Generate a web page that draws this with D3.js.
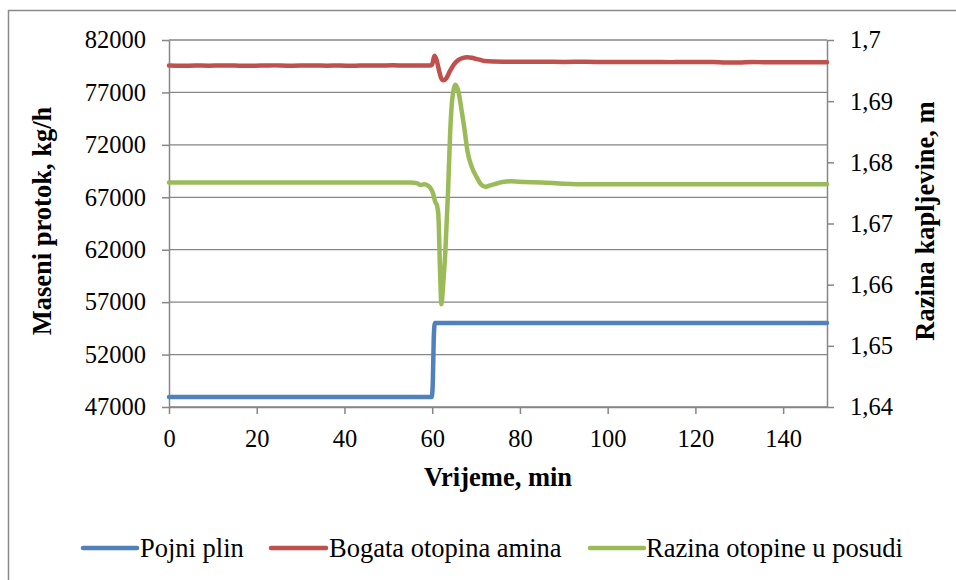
<!DOCTYPE html>
<html>
<head>
<meta charset="utf-8">
<script src="https://cdn.jsdelivr.net/npm/d3@7"></script>
<style>
  html, body { margin: 0; padding: 0; background: #fff; }
  svg { display: block; }
  text { font-family: "Liberation Serif", "Times New Roman", serif; fill: #000; }
</style>
</head>
<body>
<svg id="chart" width="956" height="580"></svg>
<script>
// ---------- DATA ----------
const leftTicks = [47000, 52000, 57000, 62000, 67000, 72000, 77000, 82000];
const rightTicks = [1.64, 1.65, 1.66, 1.67, 1.68, 1.69, 1.70];
const xTicks = [0, 20, 40, 60, 80, 100, 120, 140];

const seriesNames = ["Pojni plin", "Bogata otopina amina", "Razina otopine u posudi"];
const seriesColors = ["#4F81BD", "#C0504D", "#9BBB59"];

// Pojni plin (left axis, kg/h)
const gasTime  = [0, 10, 20, 30, 40, 50, 59.9, 60.15, 60.35, 60.6, 65, 70, 80, 90, 100, 110, 120, 130, 140, 150];
const gasValue = [47950, 47950, 47950, 47950, 47950, 47950, 47950, 49500, 53500, 55000, 55000, 55000, 55000, 55000, 55000, 55000, 55000, 55000, 55000, 55000];

// Bogata otopina amina (left axis, kg/h)
const richTime  = [0, 3, 6, 9, 12, 15, 18, 21, 24, 27, 30, 33, 36, 39, 42, 45, 48, 51, 54, 57, 59.5,
                   60.0, 60.5, 61.0, 61.5, 62.0, 62.5, 63.2, 64, 65, 66, 67, 68, 69, 70, 71, 72, 74, 77,
                   80, 85, 90, 95, 100, 105, 110, 115, 120, 124, 127, 130, 133, 136, 140, 145, 150];
const richValue = [79560, 79540, 79570, 79550, 79580, 79560, 79540, 79570, 79580, 79550, 79560, 79580, 79550, 79570, 79540, 79580, 79560, 79590, 79560, 79580, 79570,
                   79680, 80500, 80100, 79200, 78400, 78150, 78350, 79000, 79700, 80100, 80300, 80350, 80300, 80200, 80100, 80000, 79950, 79930,
                   79920, 79920, 79910, 79920, 79900, 79910, 79900, 79890, 79900, 79910, 79850, 79860, 79900, 79880, 79880, 79870, 79870];

// Razina otopine u posudi (right axis, m)
const levelTime  = [0, 10, 20, 30, 40, 50, 55, 56.5, 57.3, 58.2, 59.0, 59.6, 60.2, 60.7, 61.1, 61.4, 61.8, 62.1, 62.5,
                    63.0, 63.6, 64.1, 64.6, 65.3, 66.0, 66.7, 67.4, 68.0, 69.1, 70.2, 71.1, 72.1, 73.0, 74.5, 76.0, 78.0,
                    81, 85, 90, 96, 100, 110, 120, 130, 140, 150];
const levelValue = [1.6767, 1.6767, 1.6767, 1.6767, 1.6767, 1.6767, 1.6767, 1.6766, 1.6763, 1.6764, 1.6762, 1.6758, 1.6749, 1.6735, 1.6729, 1.6715, 1.6620, 1.6568, 1.6600,
                    1.6655, 1.6750, 1.6850, 1.6905, 1.6927, 1.6915, 1.6885, 1.6852, 1.6820, 1.6791, 1.6775, 1.6764, 1.6760, 1.6762, 1.6765, 1.6768, 1.6769,
                    1.6768, 1.6767, 1.6765, 1.6764, 1.6764, 1.6764, 1.6764, 1.6764, 1.6764, 1.6764];

const xTitle = "Vrijeme, min";
const leftTitle = "Maseni protok, kg/h";
const rightTitle = "Razina kapljevine, m";

// ---------- LAYOUT ----------
const svg = d3.select("#chart");
const plot = { left: 169, right: 827, top: 40, bottom: 407 };
const gridColor = "#868686";
const tickFont = 24.5;
const legendFont = 26.5;

const x = d3.scaleLinear().domain([0, 150]).range([plot.left, plot.right]);
const yL = d3.scaleLinear().domain([47000, 82000]).range([plot.bottom, plot.top]);
const yR = d3.scaleLinear().domain([1.64, 1.70]).range([plot.bottom, plot.top]);

// outer border
svg.append("rect")
  .attr("x", 8.5).attr("y", 10.5).attr("width", 1000).attr("height", 1000)
  .attr("fill", "none").attr("stroke", "#8a8a8a").attr("stroke-width", 1.5);

// gridlines
svg.append("g").selectAll("line").data(leftTicks).join("line")
  .attr("x1", plot.left).attr("x2", plot.right)
  .attr("y1", d => yL(d)).attr("y2", d => yL(d))
  .attr("stroke", gridColor).attr("stroke-width", 1.3);

function styleAxis(g) {
  g.attr("font-family", null);
  g.select(".domain").attr("stroke", gridColor).attr("stroke-width", 1.5);
  g.selectAll(".tick line").attr("stroke", gridColor).attr("stroke-width", 1.5);
  g.selectAll("text").attr("font-size", tickFont).attr("font-family", "Liberation Serif").attr("fill", "#000");
}

// left axis
svg.append("g").attr("transform", `translate(${plot.left},0)`)
  .call(d3.axisLeft(yL).tickValues(leftTicks).tickFormat(d3.format("d")).tickSize(7).tickSizeOuter(0).tickPadding(16))
  .call(styleAxis);

// right axis
svg.append("g").attr("transform", `translate(${plot.right},0)`)
  .call(d3.axisRight(yR).tickValues(rightTicks)
    .tickFormat(d => String(+d.toFixed(2)).replace(".", ","))
    .tickSize(7).tickSizeOuter(0).tickPadding(16))
  .call(styleAxis);

// bottom axis
svg.append("g").attr("transform", `translate(0,${plot.bottom})`)
  .call(d3.axisBottom(x).tickValues(xTicks).tickFormat(d3.format("d")).tickSize(7).tickSizeOuter(0).tickPadding(16))
  .call(styleAxis);

// lines
const lineL = d3.line().x(d => x(d[0])).y(d => yL(d[1])).curve(d3.curveMonotoneX);
const lineR = d3.line().x(d => x(d[0])).y(d => yR(d[1])).curve(d3.curveMonotoneX);

const gasData = gasTime.map((t, i) => [t, gasValue[i]]);
const richData = richTime.map((t, i) => [t, richValue[i]]);
const levelData = levelTime.map((t, i) => [t, levelValue[i]]);

const lw = 4.5;
svg.append("path").datum(gasData).attr("d", lineL)
  .attr("fill", "none").attr("stroke", seriesColors[0]).attr("stroke-width", lw).attr("stroke-linejoin", "round").attr("stroke-linecap", "round");
svg.append("path").datum(richData).attr("d", lineL)
  .attr("fill", "none").attr("stroke", seriesColors[1]).attr("stroke-width", lw).attr("stroke-linejoin", "round").attr("stroke-linecap", "round");
svg.append("path").datum(levelData).attr("d", lineR)
  .attr("fill", "none").attr("stroke", seriesColors[2]).attr("stroke-width", lw).attr("stroke-linejoin", "round").attr("stroke-linecap", "round");

// titles
svg.append("text").attr("x", (plot.left + plot.right) / 2).attr("y", 486)
  .attr("text-anchor", "middle").attr("font-weight", "bold").attr("font-size", 26.5).text(xTitle);
svg.append("text").attr("transform", `translate(51,221) rotate(-90)`)
  .attr("text-anchor", "middle").attr("font-weight", "bold").attr("font-size", 26.5).text(leftTitle);
svg.append("text").attr("transform", `translate(934,221) rotate(-90)`)
  .attr("text-anchor", "middle").attr("font-weight", "bold").attr("font-size", 26.5).text(rightTitle);

// legend
const legendY = 548;
const legendItems = [
  { x0: 83, x1: 137, tx: 140 },
  { x0: 271, x1: 326, tx: 329 },
  { x0: 590, x1: 644, tx: 646 }
];
const lg = svg.append("g");
legendItems.forEach((it, i) => {
  lg.append("line").attr("x1", it.x0).attr("x2", it.x1).attr("y1", legendY).attr("y2", legendY)
    .attr("stroke", seriesColors[i]).attr("stroke-width", lw).attr("stroke-linecap", "round");
  lg.append("text").attr("x", it.tx).attr("y", legendY + 9).attr("font-size", legendFont).text(seriesNames[i]);
});
</script>
</body>
</html>
